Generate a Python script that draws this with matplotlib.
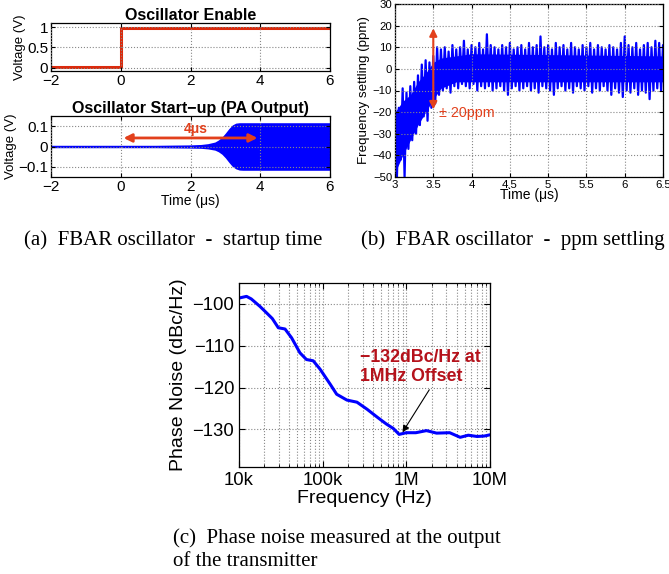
import numpy as np
import matplotlib
matplotlib.use("Agg")
import matplotlib.pyplot as plt

plt.rcParams['font.family'] = ['Liberation Sans', 'DejaVu Sans']
plt.rcParams['axes.unicode_minus'] = True

# ---------------------- Data ----------------------

# (a) oscillator enable (V)
t_enable = [-2, 0, 0, 6]
v_enable = [0.01, 0.01, 0.98, 0.98]

# (a) start-up envelope of PA output (V)
t_env = [-2, 0, 1, 1.5, 2.0, 2.3, 2.5, 2.7, 2.8, 2.9, 3.0, 3.1, 3.2, 3.3, 3.4, 3.5, 6]
env_up = [0.006, 0.006, 0.006, 0.007, 0.008, 0.010, 0.014, 0.022, 0.032, 0.046, 0.066, 0.088, 0.106, 0.115, 0.117, 0.117, 0.117]
env_lo = [-0.006, -0.006, -0.006, -0.007, -0.008, -0.009, -0.012, -0.018, -0.026, -0.038, -0.056, -0.078, -0.098, -0.110, -0.116, -0.117, -0.117]

# (b) frequency settling, upper/lower spikes every 0.05 us (ppm)
t_ppm = [3.00 + 0.05 * i for i in range(71)]
ppm_up = [-16, -18, -9, -11, -8, -6, -3, 2, 4, 3, 6, 10, 9, 10, 8, 11, 9, 10, 13, 9,
          11, 10, 12, 9, 16, 11, 10, 9, 11, 10, 12, 9, 10, 11, 9, 12, 10, 11, 15, 10,
          11, 9, 12, 10, 11, 9, 12, 10, 9, 11, 10, 12, 9, 11, 10, 9, 11, 10, 9, 12,
          15, 11, 10, 12, 9, 11, 12, 10, 13, 12, 11]
ppm_lo = [-50, -42, -50, -37, -33, -30, -26, -22, -24, -18, -16, -12, -10, -9, -11, -8, -9, -7, -8, -9,
          -7, -10, -8, -9, -8, -10, -9, -8, -10, -12, -9, -8, -10, -9, -8, -10, -9, -11, -8, -9,
          -10, -12, -9, -8, -10, -9, -11, -8, -9, -10, -8, -11, -9, -10, -8, -10, -12, -9, -11, -13,
          -10, -11, -9, -12, -10, -11, -14, -10, -9, -10, -9]
# solid core of the noise band (ppm)
t_core = [3.0, 3.1, 3.2, 3.3, 3.4, 3.5, 3.6, 3.8, 4.0, 6.5]
core_up = [-20, -15, -12, -6, -2, 3, 5, 6, 7, 6]
core_lo = [-48, -40, -33, -26, -20, -14, -9, -6, -6, -6]

# (c) phase noise
freq = [10e3, 12.3e3, 14e3, 17.8e3, 21e3, 25e3, 29.5e3, 35.5e3, 42.5e3, 53.5e3, 64e3, 77e3,
        93e3, 123e3, 147e3, 195e3, 257e3, 340e3, 450e3, 575e3, 700e3, 820e3, 1e6, 1.3e6,
        1.74e6, 2.3e6, 3.3e6, 4.4e6, 5.5e6, 7e6, 8.5e6, 10e6]
pn = [-98.6, -98.2, -98.8, -100.6, -102, -103.5, -105.7, -106, -108.1, -111.7, -113.3, -113.6,
      -115.6, -119.2, -121.6, -123, -123.5, -125.2, -127.1, -128.7, -129.8, -131.2, -130.8, -130.8,
      -130.3, -130.9, -130.8, -131.9, -131.4, -131.7, -131.6, -131.3]

RED = '#dc2a0c'
ARROW = '#e2401c'
BLUE = '#0000ff'

W, H = 669, 574
fig = plt.figure(figsize=(W / 100, H / 100), dpi=100)


def px_axes(x0, y0, x1, y1):
    return fig.add_axes([x0 / W, 1 - y1 / H, (x1 - x0) / W, (y1 - y0) / H])


def matlab_style(ax, size):
    ax.tick_params(direction='in', top=True, right=True, labelsize=size, length=3, width=0.8)
    for s in ax.spines.values():
        s.set_linewidth(0.9)
    ax.grid(True, linestyle=':', color='#888888', linewidth=0.8)
    ax.set_axisbelow(False)


# ---------------------- (a) Oscillator Enable ----------------------
ax1 = px_axes(51, 23, 330, 71)
ax1.plot(t_enable, v_enable, color=RED, lw=2.2)
ax1.set_xlim(-2, 6)
ax1.set_ylim(-0.08, 1.1)
ax1.set_xticks([-2, 0, 2, 4, 6])
ax1.set_yticks([0, 0.5, 1])
ax1.set_yticklabels(['0', '0.5', '1'])
matlab_style(ax1, 11)
ax1.tick_params(pad=2)
ax1.set_ylabel('Voltage (V)', fontsize=9.5, labelpad=1)
ax1.set_title('Oscillator Enable', fontsize=11.5, fontweight='bold', pad=2)

# ---------------------- (a) Start-up ----------------------
ax2 = px_axes(51, 116, 330, 177)
ax2.fill_between(t_env, env_lo, env_up, color=BLUE, lw=0)
ax2.set_xlim(-2, 6)
ax2.set_ylim(-0.15, 0.15)
ax2.set_xticks([-2, 0, 2, 4, 6])
ax2.set_yticks([-0.1, 0, 0.1])
ax2.set_yticklabels(['\u22120.1', '0', '0.1'])
matlab_style(ax2, 11)
ax2.tick_params(pad=2)
ax2.set_ylabel('Voltage (V)', fontsize=9.5, labelpad=1)
ax2.set_xlabel('Time (\u03bcs)', fontsize=10, labelpad=0)
ax2.set_title('Oscillator Start\u2212up (PA Output)', fontsize=11.5, fontweight='bold', pad=2)
ax2.annotate('', xy=(0, 0.042), xytext=(4, 0.042),
             arrowprops=dict(arrowstyle='<|-|>', color=ARROW, lw=2, mutation_scale=12))
ax2.text(2.15, 0.088, '4\u03bcs', color=ARROW, fontsize=10, fontweight='bold',
         ha='center', va='center')

# ---------------------- (b) ppm settling ----------------------
ax3 = px_axes(395, 4, 663, 177)
ax3.fill_between(t_core, core_lo, core_up, color=BLUE, lw=0)
t_ppm = np.array(t_ppm)
zx = np.column_stack([t_ppm, t_ppm + 0.025]).ravel()
zy = np.column_stack([ppm_up, ppm_lo]).ravel()
ax3.plot(zx, zy, color=BLUE, lw=1.6)
ax3.set_xlim(3, 6.5)
ax3.set_ylim(-50, 30)
ax3.set_xticks([3, 3.5, 4, 4.5, 5, 5.5, 6, 6.5])
ax3.set_xticklabels(['3', '3.5', '4', '4.5', '5', '5.5', '6', '6.5'])
ax3.set_yticks(range(-50, 31, 10))
matlab_style(ax3, 8.2)
ax3.tick_params(pad=2)
ax3.set_ylabel('Frequency settling (ppm)', fontsize=9.6, labelpad=2)
ax3.set_xlabel('Time (\u03bcs)', fontsize=10, labelpad=-1)
ax3.annotate('', xy=(3.5, 20), xytext=(3.5, -20),
             arrowprops=dict(arrowstyle='<|-|>', color=ARROW, lw=1.5, mutation_scale=11))
ax3.text(3.57, -20.5, '\u00b1 20ppm', color=ARROW, fontsize=10.3, ha='left', va='center')

# ---------------------- (c) Phase noise ----------------------
ax4 = px_axes(239, 283, 490, 467)
ax4.semilogx(freq, pn, color=BLUE, lw=2.2)
ax4.set_xlim(1e4, 1e7)
ax4.set_ylim(-139, -95)
ax4.set_xticks([1e4, 1e5, 1e6, 1e7])
ax4.set_xticklabels(['10k', '100k', '1M', '10M'])
ax4.set_yticks([-130, -120, -110, -100])
ax4.tick_params(direction='in', top=True, right=True, labelsize=13.3, length=4, width=0.8)
ax4.tick_params(which='minor', direction='in', top=True, length=2)
for s in ax4.spines.values():
    s.set_linewidth(0.9)
ax4.grid(True, which='major', linestyle=':', color='#888888', linewidth=0.8)
ax4.grid(True, which='minor', axis='x', linestyle=':', color='#888888', linewidth=0.8)
ax4.xaxis.set_minor_formatter(matplotlib.ticker.NullFormatter())
ax4.set_ylabel('Phase Noise (dBc/Hz)', fontsize=14, labelpad=4)
ax4.set_xlabel('Frequency (Hz)', fontsize=14, labelpad=1)
ax4.annotate('\u2212132dBc/Hz at\n1MHz Offset', xy=(0.9e6, -130.7), xytext=(2.8e5, -115),
             color='#b5121b', fontsize=12.8, fontweight='bold', ha='left', va='center',
             linespacing=1.15,
             arrowprops=dict(arrowstyle='-|>', color='black', lw=0.8, mutation_scale=10,
                             shrinkA=2, shrinkB=0, relpos=(0.6, 0)))

# ---------------------- Captions ----------------------
cap = dict(family=['Liberation Serif', 'DejaVu Serif'], fontsize=15, va='baseline')
fig.text(24 / W, 1 - 245 / H, '(a)  FBAR oscillator  -  startup time', ha='left', **cap)
fig.text(361 / W, 1 - 245 / H, '(b)  FBAR oscillator  -  ppm settling', ha='left', **cap)
fig.text(173 / W, 1 - 543 / H, '(c)  Phase noise measured at the output', ha='left', **cap)
fig.text(173 / W, 1 - 566 / H, 'of the transmitter', ha='left', **cap)

fig.savefig('out.png', dpi=100)
